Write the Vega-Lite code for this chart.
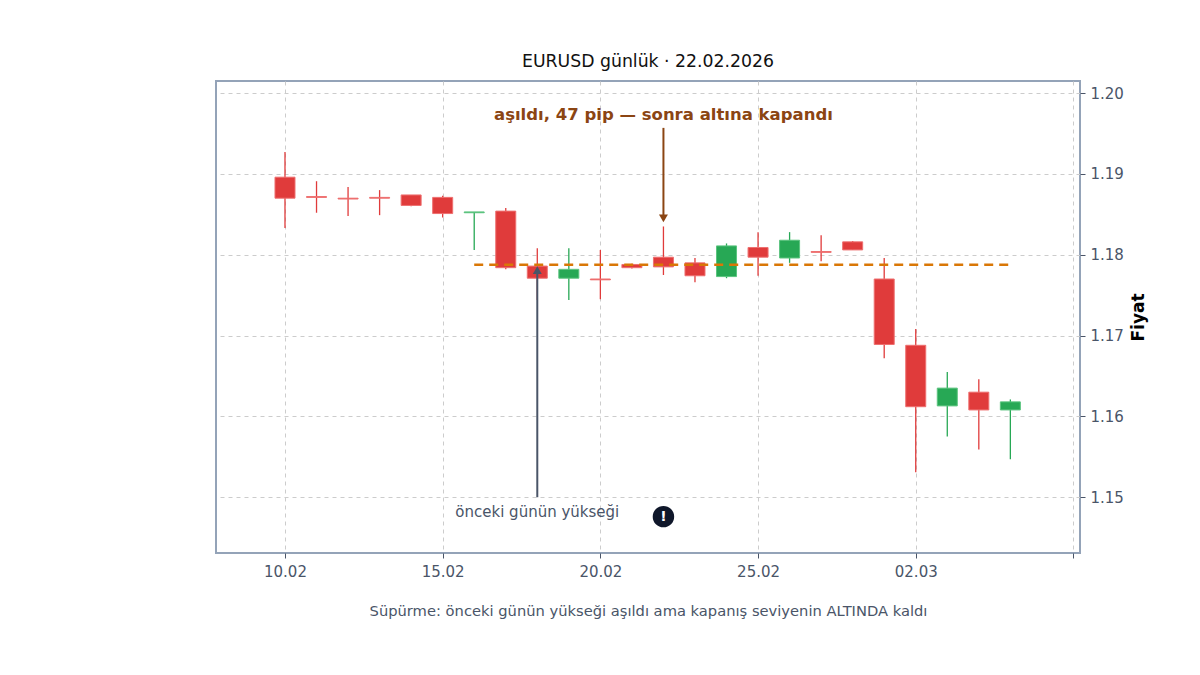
{
  "$schema": "https://vega.github.io/schema/vega-lite/v6.json",
  "autosize": "none",
  "width": 864,
  "height": 472,
  "padding": {"left": 216, "top": 81, "right": 120, "bottom": 122},
  "background": "white",
  "title": {"text": "EURUSD günlük · 22.02.2026", "fontSize": 17.3, "fontWeight": "normal", "color": "#111111", "font": "DejaVu Sans", "offset": 11},
  "config": {
    "font": "DejaVu Sans",
    "view": {"stroke": "#94a3b8", "strokeWidth": 2},
    "axis": {"domain": false, "gridDash": [4, 4], "gridColor": "#cccccc", "gridWidth": 1, "tickColor": "#4a5568", "tickSize": 5, "labelColor": "#4a5568", "labelFontSize": 15, "labelFont": "DejaVu Sans", "titleFont": "DejaVu Sans"}
  },
  "datasets": {
    "candles": [
      {"date": "2026-02-10T00:00", "open": 1.1896, "high": 1.1927, "low": 1.1833, "close": 1.1870},
      {"date": "2026-02-11T00:00", "open": 1.1872, "high": 1.1891, "low": 1.1852, "close": 1.1871},
      {"date": "2026-02-12T00:00", "open": 1.1870, "high": 1.1884, "low": 1.1848, "close": 1.1869},
      {"date": "2026-02-13T00:00", "open": 1.1871, "high": 1.1880, "low": 1.1849, "close": 1.1870},
      {"date": "2026-02-14T00:00", "open": 1.1874, "high": 1.1874, "low": 1.1860, "close": 1.1861},
      {"date": "2026-02-15T00:00", "open": 1.1871, "high": 1.1873, "low": 1.1846, "close": 1.1851},
      {"date": "2026-02-16T00:00", "open": 1.1852, "high": 1.1853, "low": 1.1806, "close": 1.1853},
      {"date": "2026-02-17T00:00", "open": 1.1854, "high": 1.1858, "low": 1.1782, "close": 1.1784},
      {"date": "2026-02-18T00:00", "open": 1.1786, "high": 1.1808, "low": 1.1744, "close": 1.1771},
      {"date": "2026-02-19T00:00", "open": 1.1771, "high": 1.1808, "low": 1.1744, "close": 1.1782},
      {"date": "2026-02-20T00:00", "open": 1.1770, "high": 1.1806, "low": 1.1745, "close": 1.1769},
      {"date": "2026-02-21T00:00", "open": 1.1788, "high": 1.1789, "low": 1.1783, "close": 1.1784},
      {"date": "2026-02-22T00:00", "open": 1.1797, "high": 1.1835, "low": 1.1775, "close": 1.1785},
      {"date": "2026-02-23T00:00", "open": 1.1790, "high": 1.1796, "low": 1.1766, "close": 1.1774},
      {"date": "2026-02-24T00:00", "open": 1.1773, "high": 1.1814, "low": 1.1771, "close": 1.1811},
      {"date": "2026-02-25T00:00", "open": 1.1809, "high": 1.1828, "low": 1.1774, "close": 1.1797},
      {"date": "2026-02-26T00:00", "open": 1.1796, "high": 1.1828, "low": 1.1790, "close": 1.1818},
      {"date": "2026-02-27T00:00", "open": 1.1804, "high": 1.1824, "low": 1.1792, "close": 1.1803},
      {"date": "2026-02-28T00:00", "open": 1.1816, "high": 1.1817, "low": 1.1806, "close": 1.1806},
      {"date": "2026-03-01T00:00", "open": 1.1770, "high": 1.1796, "low": 1.1672, "close": 1.1689},
      {"date": "2026-03-02T00:00", "open": 1.1688, "high": 1.1708, "low": 1.1531, "close": 1.1612},
      {"date": "2026-03-03T00:00", "open": 1.1613, "high": 1.1655, "low": 1.1575, "close": 1.1635},
      {"date": "2026-03-04T00:00", "open": 1.1630, "high": 1.1646, "low": 1.1559, "close": 1.1608},
      {"date": "2026-03-05T00:00", "open": 1.1608, "high": 1.1621, "low": 1.1547, "close": 1.1618}
    ],
    "level": [{"date": "2026-02-16T00:00", "date2": "2026-03-05T01:00", "price": 1.17875}],
    "prevHigh": [{"date": "2026-02-18T00:00", "from": 1.15, "to": 1.178, "head": 1.1781, "label": 1.1482}],
    "sweep": [{"date": "2026-02-22T00:00", "from": 1.1957, "to": 1.1846, "head": 1.1845, "label": 1.1973, "badge": 1.1476}]
  },
  "encoding": {
    "x": {
      "field": "date", "type": "temporal",
      "scale": {"domain": [{"year": 2026, "month": 2, "date": 7, "hours": 19, "minutes": 30}, {"year": 2026, "month": 3, "date": 7, "hours": 5}], "padding": 0},
      "axis": {
        "title": "Süpürme: önceki günün yükseği aşıldı ama kapanış seviyenin ALTINDA kaldı",
        "titleFontSize": 14.7, "titleFontWeight": "normal", "titleColor": "#4a5568", "titlePadding": 24,
        "values": [
          {"year": 2026, "month": 2, "date": 10},
          {"year": 2026, "month": 2, "date": 15},
          {"year": 2026, "month": 2, "date": 20},
          {"year": 2026, "month": 2, "date": 25},
          {"year": 2026, "month": 3, "date": 2},
          {"year": 2026, "month": 3, "date": 7}
        ],
        "labelExpr": "month(datum.value) == 2 && date(datum.value) == 7 ? '' : timeFormat(datum.value, '%d.%m')",
        "labelPadding": 6,
        "grid": true
      }
    }
  },
  "layer": [
    {
      "data": {"name": "candles"},
      "mark": {"type": "rule", "strokeWidth": 1.3},
      "encoding": {
        "y": {
          "field": "low", "type": "quantitative",
          "scale": {"domain": [1.1431, 1.2015], "zero": false, "nice": false},
          "axis": {
            "orient": "right", "values": [1.15, 1.16, 1.17, 1.18, 1.19, 1.20], "format": ".2f",
            "title": "Fiyat", "titleFontSize": 17, "titleFontWeight": "bold", "titleColor": "#000000",
            "titleAngle": 270, "titlePadding": 24, "labelPadding": 5, "grid": true
          }
        },
        "y2": {"field": "high"},
        "color": {"condition": {"test": "datum.close > datum.open", "value": "#27a855"}, "value": "#e03b3b"}
      }
    },
    {
      "data": {"name": "candles"},
      "mark": {"type": "bar", "width": 20, "strokeWidth": 1},
      "encoding": {
        "y": {"field": "open", "type": "quantitative"},
        "y2": {"field": "close"},
        "fill": {"condition": {"test": "datum.close > datum.open", "value": "#27a855"}, "value": "#e03b3b"},
        "stroke": {"condition": {"test": "datum.close > datum.open", "value": "#5cc47f"}, "value": "#ee7070"}
      }
    },
    {
      "data": {"name": "level"},
      "mark": {"type": "rule", "color": "#d97706", "strokeWidth": 2.5, "strokeDash": [9, 6]},
      "encoding": {
        "x2": {"field": "date2"},
        "y": {"field": "price", "type": "quantitative"}
      }
    },
    {
      "data": {"name": "prevHigh"},
      "mark": {"type": "rule", "color": "#4a5568", "strokeWidth": 2},
      "encoding": {
        "y": {"field": "from", "type": "quantitative"},
        "y2": {"field": "to"}
      }
    },
    {
      "data": {"name": "prevHigh"},
      "mark": {"type": "point", "shape": "triangle-up", "filled": true, "color": "#4a5568", "size": 80, "opacity": 1},
      "encoding": {
        "y": {"field": "head", "type": "quantitative"}
      }
    },
    {
      "data": {"name": "prevHigh"},
      "mark": {"type": "text", "text": "önceki günün yükseği", "fontSize": 15, "color": "#4a5568", "align": "center", "baseline": "middle"},
      "encoding": {
        "y": {"field": "label", "type": "quantitative"}
      }
    },
    {
      "data": {"name": "sweep"},
      "mark": {"type": "rule", "color": "#8b4513", "strokeWidth": 2},
      "encoding": {
        "y": {"field": "from", "type": "quantitative"},
        "y2": {"field": "to"}
      }
    },
    {
      "data": {"name": "sweep"},
      "mark": {"type": "point", "shape": "triangle-down", "filled": true, "color": "#8b4513", "size": 80, "opacity": 1},
      "encoding": {
        "y": {"field": "head", "type": "quantitative"}
      }
    },
    {
      "data": {"name": "sweep"},
      "mark": {"type": "text", "text": "aşıldı, 47 pip — sonra altına kapandı", "fontSize": 16.5, "fontWeight": "bold", "color": "#8b4513", "align": "center", "baseline": "middle"},
      "encoding": {
        "y": {"field": "label", "type": "quantitative"}
      }
    },
    {
      "data": {"name": "sweep"},
      "mark": {"type": "point", "shape": "circle", "filled": true, "color": "#0f172a", "size": 460, "opacity": 1},
      "encoding": {
        "y": {"field": "badge", "type": "quantitative"}
      }
    },
    {
      "data": {"name": "sweep"},
      "mark": {"type": "text", "text": "!", "fontSize": 14, "fontWeight": "bold", "color": "white", "align": "center", "baseline": "middle"},
      "encoding": {
        "y": {"field": "badge", "type": "quantitative"}
      }
    }
  ]
}
